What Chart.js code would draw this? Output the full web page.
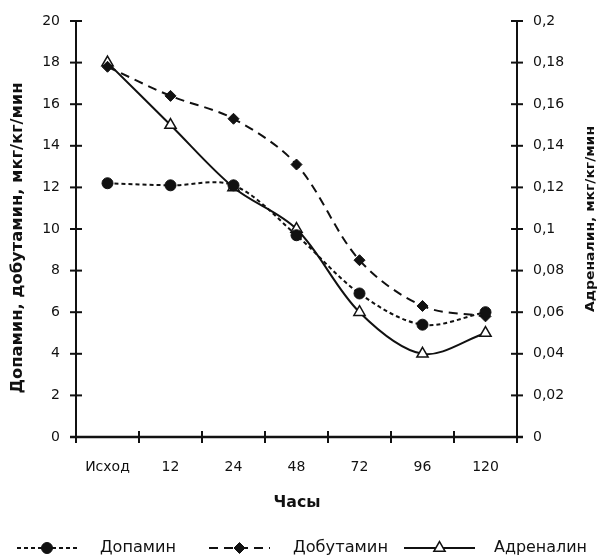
<!DOCTYPE html>
<html>
<head>
<meta charset="utf-8">
<script src="https://cdn.jsdelivr.net/npm/chart.js@4"></script>
<style>
  html, body { margin: 0; padding: 0; background: #fff; }
  #wrap { position: relative; width: 600px; height: 557px; }
</style>
</head>
<body>
<div id="wrap"><canvas id="doseChart" width="600" height="557"></canvas></div>
<script>
// values
const hours = ['Исход', '12', '24', '48', '72', '96', '120'];
const dopamine = [12.2, 12.1, 12.1, 9.7, 6.9, 5.4, 6.0];
const dobutamine = [17.8, 16.4, 15.3, 13.1, 8.5, 6.3, 5.8];
const adrenaline = [0.18, 0.15, 0.12, 0.10, 0.06, 0.04, 0.05];

const leftTitle = 'Допамин, добутамин, мкг/кг/мин';
const rightTitle = 'Адреналин, мкг/кг/мин';
const xTitle = 'Часы';

const ink = '#111';
const tickFont = { family: 'DejaVu Sans', size: 14 };

function commaTick(value) {
    return String(Number(value.toFixed(2))).replace('.', ',');
}

// the scanned figure uses a wide face, so stretch text to the measured length
function fillTextFit(ctx, text, x, y, width) {
    const w = ctx.measureText(text).width;
    ctx.save();
    ctx.translate(x, y);
    ctx.scale(width / w, 1);
    ctx.fillText(text, 0, 0);
    ctx.restore();
}

// axis lines, crossing tick marks, titles and the line+marker legend
const frameAndLegend = {
    id: 'frameAndLegend',
    afterDraw(chart) {
        const ctx = chart.ctx;
        const area = chart.chartArea;
        const yL = chart.scales.y, yR = chart.scales.y1;
        ctx.save();
        ctx.strokeStyle = ink;

        // vertical axes
        ctx.lineWidth = 2;
        ctx.beginPath();
        ctx.moveTo(area.left, area.top); ctx.lineTo(area.left, area.bottom);
        ctx.moveTo(area.right, area.top); ctx.lineTo(area.right, area.bottom);
        ctx.stroke();
        yL.ticks.forEach((t, i) => {
            const py = yL.getPixelForTick(i);
            ctx.beginPath(); ctx.moveTo(area.left - 6, py); ctx.lineTo(area.left + 6, py); ctx.stroke();
        });
        yR.ticks.forEach((t, i) => {
            const py = yR.getPixelForTick(i);
            ctx.beginPath(); ctx.moveTo(area.right - 6, py); ctx.lineTo(area.right + 6, py); ctx.stroke();
        });

        // horizontal axis, ticks between categories
        ctx.lineWidth = 2.5;
        ctx.beginPath();
        ctx.moveTo(area.left - 6, area.bottom); ctx.lineTo(area.right + 6, area.bottom);
        ctx.stroke();
        ctx.lineWidth = 2;
        const n = hours.length;
        for (let i = 0; i <= n; i++) {
            const px = area.left + i * (area.right - area.left) / n;
            ctx.beginPath(); ctx.moveTo(px, area.bottom - 6); ctx.lineTo(px, area.bottom + 6); ctx.stroke();
        }

        // axis titles
        ctx.fillStyle = ink;
        ctx.textAlign = 'center';
        ctx.textBaseline = 'middle';
        ctx.font = 'bold 15px "DejaVu Sans"';
        ctx.save();
        ctx.translate(18, 238);
        ctx.rotate(-Math.PI / 2);
        fillTextFit(ctx, leftTitle, 0, 0, 311);
        ctx.restore();
        ctx.font = 'bold 13px "DejaVu Sans"';
        ctx.save();
        ctx.translate(591, 219);
        ctx.rotate(-Math.PI / 2);
        fillTextFit(ctx, rightTitle, 0, 0, 186);
        ctx.restore();
        ctx.font = 'bold 15px "DejaVu Sans"';
        fillTextFit(ctx, xTitle, 297, 503, 47);

        // legend
        const entries = [
            { ds: 0, x1: 17, x2: 77, tx: 100, tw: 76 },
            { ds: 1, x1: 209, x2: 270, tx: 293, tw: 95 },
            { ds: 2, x1: 404, x2: 475, tx: 494, tw: 93 }
        ];
        const ly = 548;
        ctx.font = '15px "DejaVu Sans"';
        ctx.textAlign = 'left';
        entries.forEach(e => {
            const ds = chart.data.datasets[e.ds];
            ctx.save();
            ctx.strokeStyle = ds.borderColor;
            ctx.lineWidth = ds.borderWidth;
            ctx.setLineDash(ds.borderDash || []);
            ctx.beginPath(); ctx.moveTo(e.x1, ly); ctx.lineTo(e.x2, ly); ctx.stroke();
            ctx.restore();
            ctx.save();
            ctx.fillStyle = ds.pointBackgroundColor;
            ctx.strokeStyle = ds.pointBorderColor;
            ctx.lineWidth = ds.pointBorderWidth;
            Chart.helpers.drawPoint(ctx, {
                pointStyle: ds.pointStyle,
                radius: ds.pointRadius,
                borderWidth: ds.pointBorderWidth,
                rotation: 0
            }, (e.x1 + e.x2) / 2, ly);
            ctx.restore();
            ctx.fillStyle = ink;
            fillTextFit(ctx, ds.label, e.tx, ly, e.tw);
        });
        ctx.restore();
    }
};

const ctx = document.getElementById('doseChart').getContext('2d');
const doseChart = new Chart(ctx, {
    type: 'line',
    data: {
        labels: hours,
        datasets: [{
            label: 'Допамин',
            data: dopamine,
            yAxisID: 'y',
            borderColor: ink,
            borderWidth: 2,
            borderDash: [4, 3],
            pointStyle: 'circle',
            pointRadius: 5.5,
            pointBorderWidth: 1,
            pointBackgroundColor: ink,
            pointBorderColor: ink,
            tension: 0.33,
            fill: false
        }, {
            label: 'Добутамин',
            data: dobutamine,
            yAxisID: 'y',
            borderColor: ink,
            borderWidth: 2,
            borderDash: [9, 6],
            pointStyle: 'rectRot',
            pointRadius: 5.5,
            pointBorderWidth: 1,
            pointBackgroundColor: ink,
            pointBorderColor: ink,
            tension: 0.33,
            fill: false
        }, {
            label: 'Адреналин',
            data: adrenaline,
            yAxisID: 'y1',
            borderColor: ink,
            borderWidth: 2,
            pointStyle: 'triangle',
            pointRadius: 6.5,
            pointBorderWidth: 1.5,
            pointBackgroundColor: '#fff',
            pointBorderColor: ink,
            tension: 0.33,
            fill: false
        }]
    },
    options: {
        responsive: false,
        animation: false,
        layout: { padding: { left: 0, right: 0, top: 21, bottom: 0 } },
        plugins: {
            legend: { display: false },
            tooltip: { enabled: false }
        },
        scales: {
            x: {
                offset: true,
                grid: { display: false, offset: true },
                border: { display: false },
                ticks: { color: ink, font: tickFont, padding: 14, maxRotation: 0 },
                afterFit(scale) { scale.height = 120; }
            },
            y: {
                position: 'left',
                min: 0,
                max: 20,
                grid: { display: false },
                border: { display: false },
                ticks: { stepSize: 2, color: ink, font: tickFont, padding: 8 },
                afterFit(scale) { scale.width = 76; }
            },
            y1: {
                position: 'right',
                min: 0,
                max: 0.2,
                grid: { display: false },
                border: { display: false },
                ticks: { stepSize: 0.02, color: ink, font: tickFont, padding: 8, callback: commaTick },
                afterFit(scale) { scale.width = 83; }
            }
        }
    },
    plugins: [frameAndLegend]
});
</script>
</body>
</html>
